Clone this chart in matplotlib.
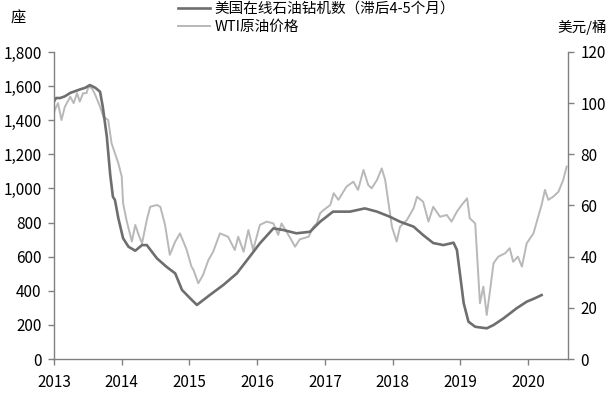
import matplotlib
matplotlib.use("Agg")
import matplotlib.pyplot as plt
from matplotlib.lines import Line2D

plt.rcParams['font.family'] = ['Liberation Sans Narrow', 'Noto Sans CJK SC', 'DejaVu Sans']

rig_x = [2013.00, 2013.03, 2013.09, 2013.16, 2013.24, 2013.31, 2013.38, 2013.46, 2013.53, 2013.61,
         2013.68, 2013.72, 2013.78, 2013.83, 2013.87, 2013.90, 2013.95, 2014.02, 2014.10, 2014.20,
         2014.30, 2014.37, 2014.52, 2014.66, 2014.79, 2014.89, 2015.01, 2015.11, 2015.30, 2015.50,
         2015.70, 2015.89, 2016.04, 2016.24, 2016.39, 2016.58, 2016.78, 2016.93, 2017.12, 2017.37,
         2017.59, 2017.77, 2017.96, 2018.11, 2018.31, 2018.45, 2018.60, 2018.75, 2018.90, 2018.95,
         2019.00, 2019.05, 2019.12, 2019.22, 2019.39, 2019.49, 2019.64, 2019.83, 2019.98, 2020.10,
         2020.20]
rig_count = [1510, 1530, 1530, 1540, 1560, 1570, 1580, 1590, 1606, 1590,
             1567, 1479, 1303, 1080, 951, 932, 825, 708, 658, 635,
             668, 668, 590, 541, 502, 405, 356, 317, 375, 434,
             502, 600, 678, 766, 756, 737, 746, 805, 864, 864,
             883, 864, 834, 805, 776, 727, 680, 668, 682, 639,
             483, 327, 219, 189, 180, 199, 239, 297, 336, 356,
             375]

wti_x = [2013.00, 2013.01, 2013.06, 2013.11, 2013.16, 2013.24, 2013.29, 2013.34, 2013.38, 2013.43,
         2013.48, 2013.51, 2013.56, 2013.61, 2013.68, 2013.73, 2013.80, 2013.85, 2013.95, 2014.00,
         2014.02, 2014.07, 2014.15, 2014.20, 2014.25, 2014.30, 2014.37, 2014.42, 2014.52, 2014.57,
         2014.64, 2014.71, 2014.79, 2014.86, 2014.91, 2014.96, 2015.03, 2015.06, 2015.13, 2015.20,
         2015.28, 2015.35, 2015.45, 2015.57, 2015.67, 2015.72, 2015.80, 2015.87, 2015.94, 2016.04,
         2016.14, 2016.24, 2016.31, 2016.36, 2016.49, 2016.56, 2016.63, 2016.76, 2016.83, 2016.88,
         2016.93, 2016.98, 2017.08, 2017.13, 2017.20, 2017.32, 2017.42, 2017.49, 2017.57, 2017.64,
         2017.69, 2017.77, 2017.84, 2017.89, 2017.94, 2017.99, 2018.06, 2018.11, 2018.21, 2018.31,
         2018.36, 2018.45, 2018.53, 2018.60, 2018.70, 2018.80, 2018.87, 2018.95, 2019.02, 2019.10,
         2019.14, 2019.22, 2019.29, 2019.34, 2019.39, 2019.44, 2019.49, 2019.56, 2019.66, 2019.73,
         2019.78, 2019.85, 2019.91, 2019.98, 2020.08, 2020.15, 2020.20, 2020.25, 2020.30, 2020.37,
         2020.45, 2020.52, 2020.57]
wti_price = [96.0, 97.3, 100.0, 93.4, 98.6, 102.5, 100.0, 103.9, 100.6, 103.9,
             103.9, 106.5, 105.8, 103.2, 98.6, 94.7, 93.4, 84.3, 76.5, 71.3,
             60.9, 54.3, 45.9, 52.4, 48.5, 45.2, 54.3, 59.5, 60.2, 59.5,
             52.4, 40.7, 45.9, 49.1, 45.9, 42.6, 36.1, 34.8, 29.6, 32.8,
             38.7, 41.9, 49.1, 47.8, 42.6, 47.8, 41.9, 50.4, 42.6, 52.4,
             53.7, 53.0, 48.5, 53.0, 47.2, 43.9, 46.8, 47.8, 51.7, 53.0,
             57.0, 58.2, 60.2, 64.8, 62.2, 67.4, 69.3, 66.1, 73.9, 68.0,
             66.7, 70.0, 74.5, 70.0, 60.9, 51.7, 45.9, 51.7, 54.3, 58.9,
             63.4, 61.5, 53.7, 59.5, 55.6, 56.3, 53.7, 57.6, 60.2, 62.8,
             55.0, 53.0, 21.8, 28.3, 17.2, 27.0, 37.4, 40.0, 41.3, 43.3,
             38.0, 40.0, 36.1, 45.2, 49.1, 55.6, 60.2, 66.1, 62.2, 63.4,
             65.4, 70.0, 75.2]

year_ticks = [2013, 2014, 2015, 2016, 2017, 2018, 2019, 2020]
left_ticks = [0, 200, 400, 600, 800, 1000, 1200, 1400, 1600, 1800]
right_ticks = [0, 20, 40, 60, 80, 100, 120]

rig_label = "美国在线石油钻机数（滞后4-5个月）"
wti_label = "WTI原油价格"

rig_color = "#6e6e6e"
wti_color = "#b8b8b8"
axis_color = "#808080"

fig = plt.figure(figsize=(6.11, 3.95), dpi=100)
ax = fig.add_axes([0.0884, 0.0911, 0.8412, 0.7773])
ax2 = ax.twinx()

ax2.plot(wti_x, wti_price, color=wti_color, lw=1.4)
ax.plot(rig_x, rig_count, color=rig_color, lw=1.9)
ax.set_zorder(ax2.get_zorder() + 1)
ax.patch.set_visible(False)

ax.set_xlim(2013, 2020.59)
ax.set_ylim(0, 1800)
ax2.set_ylim(0, 120)
ax.set_xticks(year_ticks)
ax.set_xticklabels([str(y) for y in year_ticks])
ax.set_yticks(left_ticks)
ax.set_yticklabels([f"{v:,}" for v in left_ticks])
ax2.set_yticks(right_ticks)
ax2.set_yticklabels([str(v) for v in right_ticks])

for a in (ax, ax2):
    a.spines['top'].set_visible(False)
    for s in ('left', 'right', 'bottom'):
        a.spines[s].set_color(axis_color)
        a.spines[s].set_linewidth(1.0)
    a.tick_params(colors=axis_color, labelcolor='black', labelsize=11, length=4, width=1)
ax.spines['right'].set_visible(False)
ax2.spines['left'].set_visible(False)
ax2.spines['bottom'].set_visible(False)
ax.tick_params(axis='y', pad=5)
ax.tick_params(axis='x', pad=7)
ax2.tick_params(axis='y', pad=5)

fig.text(18/611, 1 - 18/395, "座", fontsize=11, ha='center', va='center')
fig.text(607/611, 1 - 27/395, "美元/桶", fontsize=10.5, ha='right', va='center')

handles = [Line2D([], [], color=rig_color, lw=1.9), Line2D([], [], color=wti_color, lw=1.4)]
fig.legend(handles, [rig_label, wti_label], loc='upper left', bbox_to_anchor=(178/611, 1 - 2/395),
           frameon=False, fontsize=10.5, handlelength=2.2, handletextpad=0.3, labelspacing=0.25,
           borderaxespad=0, borderpad=0)

fig.savefig("out.png", dpi=100)
